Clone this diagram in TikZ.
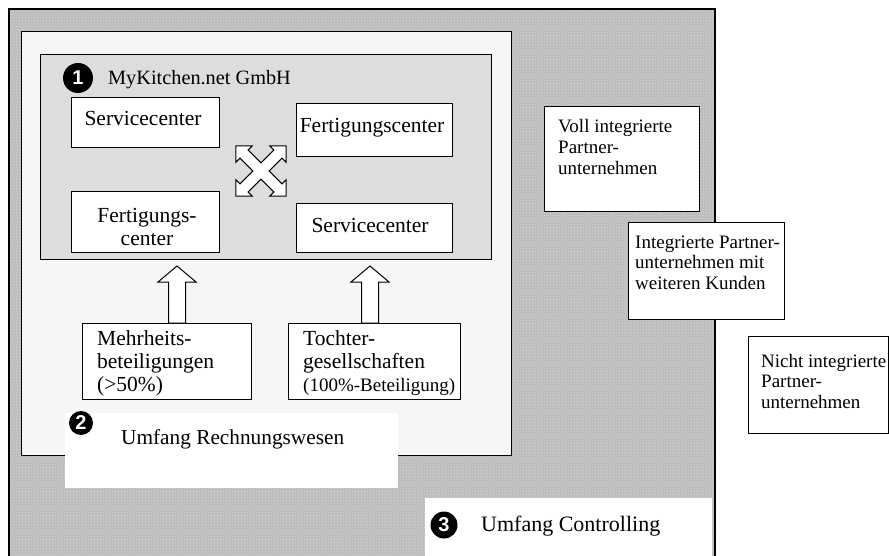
\documentclass[tikz,border=0pt]{standalone}
\usepackage{fontspec}
\setmainfont{Liberation Serif}
\newfontfamily\digitfont{Liberation Sans}
\usetikzlibrary{calc,patterns}
\definecolor{scopegray}{RGB}{188,188,188}
\definecolor{scopedots}{RGB}{218,218,218}
\definecolor{acctfill}{RGB}{246,246,246}
\definecolor{firmfill}{RGB}{221,221,221}

% hollow block arrow from the top of a box up to a tip
\newcommand\liftarrow[2]{%
  \draw[blockarrow] (#1) -- ++(19,16) -- ++(-10.5,0)
    -- ($(#1 |- #2.north)+(8.5,0)$) -- ($(#1 |- #2.north)+(-8.5,0)$)
    -- ($(#1)+(-8.5,16)$) -- ++(-10.5,0) -- cycle;}

\begin{document}
\begin{tikzpicture}[x=1pt,y=-1pt,
  unitbox/.style={draw=black, line width=1pt, fill=white, inner sep=0pt, anchor=north west},
  boxtext/.style={font=\fontsize{21.5}{23}\selectfont, inner sep=0pt, align=left},
  sidetext/.style={font=\fontsize{19}{20.7}\selectfont, inner sep=0pt, align=left},
  badge/.style={circle, fill=black, text=white, inner sep=0pt, minimum size=#1,
    font=\digitfont\bfseries\fontsize{20}{20}\selectfont},
  blockarrow/.style={draw=black, line width=1pt, fill=white, line join=miter},
]
\useasboundingbox (0,0) rectangle (889,556);

% scope of controlling
\fill[scopegray] (9,9) rectangle (715,556);
\fill[pattern=crosshatch dots, pattern color=scopedots] (9,9) rectangle (715,556);
\draw[line width=1.3pt] (9,556) -- (9,9) -- (715,9) -- (715,556);

% scope of accounting
\node[unitbox, fill=acctfill, minimum width=490, minimum height=424] (acct) at (21,31) {};

% the company itself
\node[unitbox, fill=firmfill, minimum width=451, minimum height=205] (firmbox) at (40,54) {};
\node[badge=30] (b1) at (78,78) {1};
\node[font=\fontsize{20.3}{22}\selectfont, inner sep=0pt, anchor=base west] (firm) at (108,85) {MyKitchen.net GmbH};

% multi-line texts are anchored at the baseline of their last line
\node[unitbox, minimum width=148, minimum height=50] (sc1) at (71,97) {};
\node[boxtext, anchor=base] (sc1t) at (143,126) {Servicecenter};
\node[unitbox, minimum width=156, minimum height=53] (fc1) at (296,103) {};
\node[boxtext, anchor=base] (fc1t) at (372,133) {Fertigungscenter};
\node[unitbox, minimum width=148, minimum height=61] (fc2) at (71,191) {};
\node[boxtext, font=\fontsize{21.5}{22.5}\selectfont, align=center, anchor=base] (fc2t) at (147,245.5) {Fertigungs-\\center};
\node[unitbox, minimum width=156, minimum height=49] (sc2) at (296,203) {};
\node[boxtext, anchor=base] (sc2t) at (370,233) {Servicecenter};

% four-way exchange arrow between the centres
\begin{scope}[shift={(261,171)}, rotate=45]
  \def\w{5.8} \def\a{11.6} \def\r{35.4} \def\b{24}
  \draw[blockarrow]
    (\w,-\w) -- (\b,-\w) -- (\b,-\a) -- (\r,0) -- (\b,\a) -- (\b,\w) --
    (\w,\w) -- (\w,\b) -- (\a,\b) -- (0,\r) -- (-\a,\b) -- (-\w,\b) --
    (-\w,\w) -- (-\b,\w) -- (-\b,\a) -- (-\r,0) -- (-\b,-\a) -- (-\b,-\w) --
    (-\w,-\w) -- (-\w,-\b) -- (-\a,-\b) -- (0,-\r) -- (\a,-\b) -- (\w,-\b) -- cycle;
\end{scope}

% holdings
\node[unitbox, minimum width=169, minimum height=76] (mehr) at (82,323) {};
\node[boxtext, anchor=base west] (mehrt) at (97,391) {Mehrheits-\\beteiligungen\\(>50\%)};
\node[unitbox, minimum width=172, minimum height=76] (toch) at (288,323) {};
\node[boxtext, anchor=base west] (locht) at (303,391)
  {Tochter-\\gesellschaften\\{\fontsize{19}{23}\selectfont(100\%-Beteiligung)}};

\coordinate (tipA) at (177,266);
\coordinate (tipB) at (370,266);
\liftarrow{tipA}{mehr}
\liftarrow{tipB}{toch}

% partner companies
\node[unitbox, minimum width=155, minimum height=105] (voll) at (544,106) {};
\node[sidetext, anchor=base west] (vollt) at (558,174.4) {Voll integrierte\\Partner-\\unternehmen};
\node[unitbox, minimum width=156, minimum height=97] (integ) at (628,222) {};
\node[sidetext, anchor=base west] (integt) at (635,289.4) {Integrierte Partner-\\unternehmen mit\\weiteren Kunden};
\node[unitbox, minimum width=140, minimum height=97] (nicht) at (748,336) {};
\node[sidetext, anchor=base west] (nichtt) at (761,408.4) {Nicht integrierte\\Partner-\\unternehmen};

% scope labels
\node[fill=white, inner sep=0pt, anchor=north west, minimum width=333, minimum height=75] (acctlabel) at (65,413) {};
\node[badge=24] (b2) at (81,423) {2};
\node[font=\fontsize{21.3}{23}\selectfont, inner sep=0pt, anchor=base west] (acctt) at (121,444) {Umfang Rechnungswesen};

\node[fill=white, inner sep=0pt, anchor=north west, minimum width=287, minimum height=58] (ctrllabel) at (425,498) {};
\node[badge=27] (b3) at (444,525) {3};
\node[font=\fontsize{22}{24}\selectfont, inner sep=0pt, anchor=base west] (ctrlt) at (481,531) {Umfang Controlling};
\end{tikzpicture}
\end{document}
